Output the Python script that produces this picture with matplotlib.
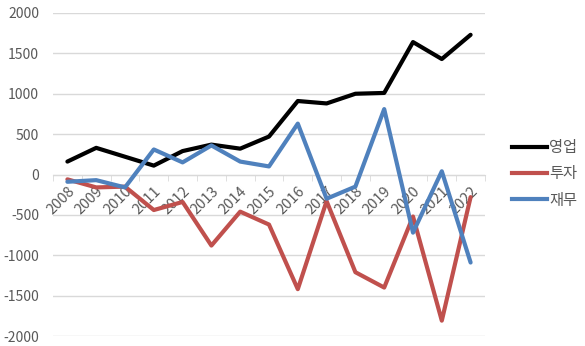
import matplotlib
matplotlib.use('Agg')
import matplotlib.pyplot as plt
from matplotlib.lines import Line2D

plt.rcParams['font.family'] = ['Noto Sans CJK KR', 'DejaVu Sans']
plt.rcParams['axes.unicode_minus'] = False

years = [str(y) for y in range(2008, 2023)]
operating = [160, 330, 220, 110, 290, 370, 320, 470, 910, 880, 1000, 1010, 1640, 1430, 1730]
investing = [-60, -160, -150, -440, -340, -880, -460, -620, -1420, -330, -1210, -1400, -520, -1810, -280]
financing = [-90, -70, -160, 310, 150, 360, 160, 100, 630, -300, -150, 810, -720, 40, -1090]

series_names = ['영업', '투자', '재무']
COLORS = ['#000000', '#c0504d', '#4f81bd']
TEXT_COLOR = '#595959'
GRID_COLOR = '#d9d9d9'

fig = plt.figure(figsize=(5.85, 3.46), dpi=100)
ax = fig.add_axes([53 / 585, 1 - 336 / 346, 432 / 585, 323 / 346])

x = list(range(len(years)))
for vals, col in zip([operating, investing, financing], COLORS):
    ax.plot(x, vals, color=col, lw=3, solid_capstyle='round', solid_joinstyle='round', zorder=3)

ax.set_xlim(-0.5, len(years) - 0.5)
ax.set_ylim(-2000, 2000)
ax.set_yticks(range(-2000, 2001, 500))
ax.grid(axis='y', color=GRID_COLOR, lw=1)
ax.set_axisbelow(True)

for s in ['top', 'right', 'left']:
    ax.spines[s].set_visible(False)
ax.spines['bottom'].set_position(('data', 0))
ax.spines['bottom'].set_color(GRID_COLOR)

ax.set_xticks(x)
ax.set_xticklabels(years, rotation=45, ha='right', va='top', rotation_mode='anchor')
for lab in ax.get_xticklabels():
    lab.set_zorder(2)
ax.set_xticks([i - 0.5 for i in range(len(years) + 1)], minor=True)
ax.tick_params(axis='x', which='major', length=0, pad=7, labelsize=10.5, colors=TEXT_COLOR)
ax.tick_params(axis='x', which='minor', length=4, color=GRID_COLOR)
ax.tick_params(axis='y', length=0, pad=10, labelsize=10, colors=TEXT_COLOR)

handles = [Line2D([0], [0], color=c, lw=3) for c in COLORS]
fig.legend(handles, series_names, loc='center left', bbox_to_anchor=(498 / 585, 1 - 174 / 346),
           frameon=False, fontsize=11, labelcolor=TEXT_COLOR, handlelength=2.3,
           handletextpad=0.15, labelspacing=0.6)

fig.savefig('out.png', dpi=100)
